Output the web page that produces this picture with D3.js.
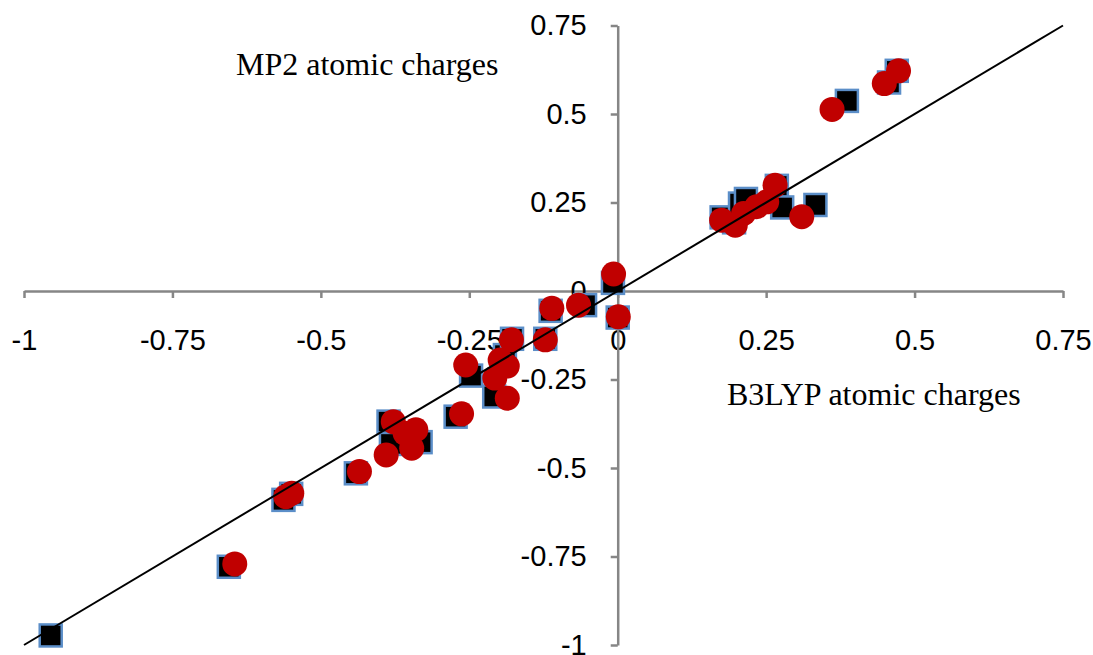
<!DOCTYPE html>
<html>
<head>
<meta charset="utf-8">
<script src="https://cdn.jsdelivr.net/npm/d3@7"></script>
<style>
  body { margin: 0; background: #fff; }
  svg { display: block; }
</style>
</head>
<body>
<svg width="1093" height="655"></svg>
<script>
// B3LYP (x) vs MP2 (y) charges, squares series
var sqX = [-0.955, -0.655, -0.563, -0.550, -0.441, -0.386, -0.382, -0.332, -0.273, -0.247,
           -0.208, -0.190, -0.178, -0.122, -0.113, -0.055, -0.008, 0.000, 0.175, 0.196,
           0.206, 0.216, 0.268, 0.277, 0.333, 0.386, 0.457, 0.470];
var sqY = [-0.973, -0.779, -0.590, -0.573, -0.515, -0.369, -0.432, -0.427, -0.355, -0.239,
           -0.298, -0.181, -0.135, -0.135, -0.056, -0.040, 0.023, -0.075, 0.208, 0.194,
           0.247, 0.260, 0.297, 0.236, 0.243, 0.537, 0.589, 0.622];

// circles series
var ciX = [-0.645, -0.559, -0.549, -0.435, -0.390, -0.378, -0.358, -0.340, -0.347, -0.263,
           -0.256, -0.198, -0.186, -0.207, -0.186, -0.179, -0.122, -0.111, -0.066, -0.007,
           0.001, 0.175, 0.198, 0.212, 0.234, 0.251, 0.265, 0.310, 0.361, 0.449, 0.473];
var ciY = [-0.771, -0.581, -0.571, -0.510, -0.463, -0.369, -0.402, -0.392, -0.444, -0.347,
           -0.209, -0.195, -0.212, -0.246, -0.303, -0.138, -0.138, -0.049, -0.040, 0.048,
           -0.073, 0.200, 0.186, 0.219, 0.238, 0.252, 0.299, 0.210, 0.513, 0.586, 0.622];

var ticks = [-1, -0.75, -0.5, -0.25, 0, 0.25, 0.5, 0.75];
var lineEnds = [-1, 0.75];

var svg = d3.select("svg");

var xScale = d3.scaleLinear().domain([-1, 0.75]).range([24, 1063]);
var yScale = d3.scaleLinear().domain([-1, 0.75]).range([645, 25.5]);

var fmt = function(d) { return String(d); };

// x axis through y = 0
var xAxis = svg.append("g")
  .attr("transform", "translate(0," + yScale(0) + ")")
  .call(d3.axisBottom(xScale).tickValues(ticks).tickFormat(fmt).tickSize(7).tickSizeOuter(0));

// y axis through x = 0
var yAxis = svg.append("g")
  .attr("transform", "translate(" + xScale(0) + ",0)")
  .call(d3.axisLeft(yScale).tickValues(ticks).tickFormat(fmt).tickSize(7).tickSizeOuter(0));

[xAxis, yAxis].forEach(function(g) {
  g.select(".domain").attr("stroke", "#868686").attr("stroke-width", 2.5);
  g.selectAll(".tick line").attr("stroke", "#868686").attr("stroke-width", 2.5);
  g.selectAll(".tick text")
    .attr("fill", "#000")
    .style("font-family", "'Liberation Sans', Arial, sans-serif")
    .style("font-size", "29px");
});
xAxis.selectAll(".tick text").attr("y", 38);
yAxis.selectAll(".tick text").attr("x", -31);

// squares
var sq = 22;
svg.append("g").selectAll("rect")
  .data(d3.range(sqX.length))
  .enter()
  .append("rect")
  .attr("x", function(i) { return xScale(sqX[i]) - sq / 2; })
  .attr("y", function(i) { return yScale(sqY[i]) - sq / 2; })
  .attr("width", sq)
  .attr("height", sq)
  .attr("fill", "#000")
  .attr("stroke", "#5b8ec8")
  .attr("stroke-width", 2.5);

// circles
svg.append("g").selectAll("circle")
  .data(d3.range(ciX.length))
  .enter()
  .append("circle")
  .attr("cx", function(i) { return xScale(ciX[i]); })
  .attr("cy", function(i) { return yScale(ciY[i]); })
  .attr("r", 12.5)
  .attr("fill", "#c00000");

// y = x line
svg.append("line")
  .attr("x1", xScale(lineEnds[0]))
  .attr("y1", yScale(lineEnds[0]))
  .attr("x2", xScale(lineEnds[1]))
  .attr("y2", yScale(lineEnds[1]))
  .attr("stroke", "#000")
  .attr("stroke-width", 2);

// axis titles
svg.append("text")
  .attr("x", 236)
  .attr("y", 75)
  .style("font-family", "'Liberation Serif', 'Times New Roman', serif")
  .style("font-size", "32px")
  .text("MP2 atomic charges");

svg.append("text")
  .attr("x", 727)
  .attr("y", 405)
  .style("font-family", "'Liberation Serif', 'Times New Roman', serif")
  .style("font-size", "32px")
  .text("B3LYP atomic charges");
</script>
</body>
</html>
